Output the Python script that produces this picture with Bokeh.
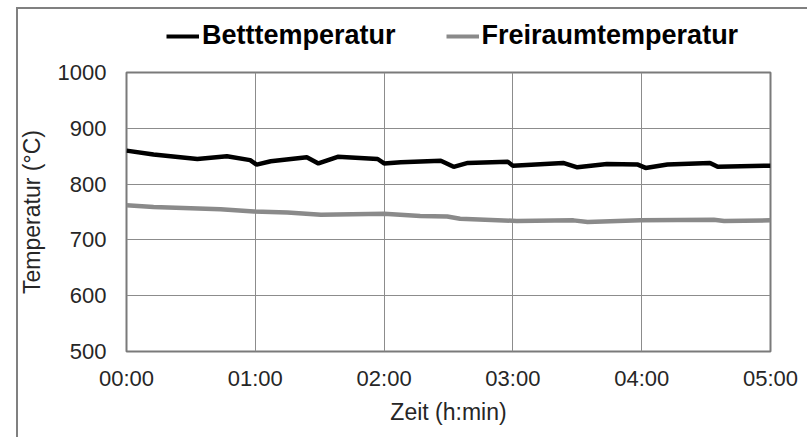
from bokeh.plotting import figure
from bokeh.layouts import column
from bokeh.models import Legend, LegendItem, FixedTicker, Range1d, InlineStyleSheet
from bokeh.embed import file_html
from bokeh.resources import INLINE

# time in hours, temperatures in °C
bett_t = [0.00, 0.21, 0.55, 0.78, 0.96, 1.01, 1.12, 1.40, 1.49, 1.64, 1.95, 2.00, 2.13,
          2.44, 2.54, 2.65, 2.96, 3.00, 3.39, 3.50, 3.73, 3.97, 4.03, 4.20, 4.53, 4.59, 5.00]
bett_v = [860, 853, 845, 850, 843, 835, 841, 848, 837, 849, 845, 837, 839,
          842, 831, 838, 840, 833, 838, 830, 836, 835, 829, 835, 838, 831, 833]

frei_t = [0.00, 0.21, 0.73, 0.99, 1.25, 1.51, 2.00, 2.28, 2.49, 2.59, 3.03, 3.47, 3.58,
          3.99, 4.56, 4.64, 5.00]
frei_v = [762, 759, 755, 751, 749, 745, 747, 743, 742, 738, 734, 735, 732,
          735, 736, 734, 735]

series_names = ["Betttemperatur", "Freiraumtemperatur"]
x_ticks = [0, 1, 2, 3, 4, 5]
x_labels = ["00:00", "01:00", "02:00", "03:00", "04:00", "05:00"]
y_ticks = [500, 600, 700, 800, 900, 1000]

FONT = "Liberation Sans"
BLACK = "black"
GREY = "#8a8a8a"

# ---- main chart ----
p = figure(frame_width=644, frame_height=279, output_backend="svg", toolbar_location=None,
           x_range=Range1d(0, 5), y_range=Range1d(500, 1000),
           min_border_left=126, min_border_right=37, min_border_top=14, min_border_bottom=86)
p.background_fill_color = "white"
p.border_fill_color = None
p.outline_line_color = "#7a7a7a"
p.outline_line_width = 2

for ax in (p.xaxis[0], p.yaxis[0]):
    ax.axis_line_color = None
    ax.major_tick_line_color = None
    ax.minor_tick_line_color = None
    ax.major_tick_out = 0
    ax.major_tick_in = 0
    ax.major_label_text_font = FONT
    ax.major_label_text_font_size = "22px"
    ax.major_label_text_color = "#262626"
    ax.axis_label_text_font = FONT
    ax.axis_label_text_font_size = "23px"
    ax.axis_label_text_font_style = "normal"
    ax.axis_label_text_color = "#262626"

p.xaxis.ticker = FixedTicker(ticks=x_ticks)
p.xaxis.major_label_overrides = {t: l for t, l in zip(x_ticks, x_labels)}
p.yaxis.ticker = FixedTicker(ticks=y_ticks)
p.xaxis.axis_label = "Zeit (h:min)"
p.yaxis.axis_label = "Temperatur (°C)"
p.xaxis.major_label_standoff = 14
p.yaxis.major_label_standoff = 20
p.xaxis.axis_label_standoff = 5
p.yaxis.axis_label_standoff = 10

p.grid.grid_line_color = "#8c8c8c"
p.grid.grid_line_width = 1
p.xgrid.ticker = FixedTicker(ticks=x_ticks)
p.ygrid.ticker = FixedTicker(ticks=y_ticks)

p.line(bett_t, bett_v, line_color=BLACK, line_width=4.5)
p.line(frei_t, frei_v, line_color=GREY, line_width=4.5)

# ---- legend strip above the chart (frame aligned with the chart's frame) ----
lg = figure(frame_width=644, frame_height=58, output_backend="svg", toolbar_location=None,
            x_range=Range1d(0, 5), y_range=Range1d(2000, 2100),
            x_axis_type=None, y_axis_type=None,
            min_border_left=126, min_border_right=37, min_border_top=0, min_border_bottom=0)
lg.grid.visible = False
lg.outline_line_color = None
lg.background_fill_color = None
lg.border_fill_color = None
# same series, outside this strip's visible range: only their legend keys show
k1 = lg.line(bett_t, bett_v, line_color=BLACK, line_width=4)
k2 = lg.line(frei_t, frei_v, line_color=GREY, line_width=4)

legend = Legend(items=[LegendItem(label=series_names[0], renderers=[k1]),
                       LegendItem(label=series_names[1], renderers=[k2])],
                orientation="horizontal", location=(40, 7),
                label_text_font=FONT, label_text_font_size="27px", label_text_font_style="bold",
                label_text_color="black", glyph_width=33, label_standoff=3, spacing=50,
                padding=4, margin=0, border_line_color=None, background_fill_alpha=0)
lg.add_layout(legend)

css = InlineStyleSheet(css="""
:host { position: relative; background: white; }
:host::after {
  content: ''; position: absolute; left: 16px; top: 7px;
  width: calc(100% - 16px); height: calc(100% - 7px);
  border-top: 2px solid #808080; border-left: 2px solid #808080;
  box-sizing: border-box; pointer-events: none; z-index: 10;
}
""")

layout = column(lg, p, spacing=0, stylesheets=[css])

open("out.html", "w").write(file_html(layout, INLINE))
